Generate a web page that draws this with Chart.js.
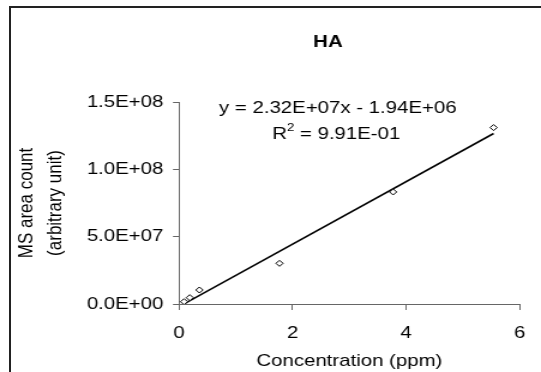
<!DOCTYPE html>
<html>
<head>
<meta charset="utf-8">
<script src="https://cdn.jsdelivr.net/npm/chart.js@4"></script>
<style>
    html, body { margin: 0; padding: 0; background: #fff; overflow: hidden; }
    #wrap { position: relative; width: 541px; height: 372px; }
    #frame {
        position: absolute; left: 9px; top: 6px; width: 700px; height: 500px;
        border-left: 2px solid #222; border-top: 2px solid #222;
    }
    #grafico { position: absolute; left: 0; top: 0; }
</style>
</head>
<body>
<div id="wrap">
    <div id="frame"></div>
    <!-- the original picture is stretched sideways, so the canvas is too -->
    <canvas id="grafico" width="451" height="372" style="width:541px;height:372px"></canvas>
</div>
<script>
// data
const concentration = [0.09, 0.19, 0.36, 1.77, 3.77, 5.54];
const areaCount = [1.7e6, 4.7e6, 1.04e7, 3.02e7, 8.32e7, 1.31e8];
const xTicks = [0, 2, 4, 6];
const yTicks = [0, 5e7, 1e8, 1.5e8];
const slope = 2.32e7;
const intercept = -1.94e6;
const chartTitle = 'HA';
const eqLine = 'y = 2.32E+07x - 1.94E+06';
const r2Value = ' = 9.91E-01';

const FONT = '"Liberation Sans", Arial, sans-serif';
Chart.defaults.font.family = FONT;
Chart.defaults.font.size = 17;
Chart.defaults.color = '#000';

function sci(v) {
    if (v === 0) return '0.0E+00';
    let [m, e] = v.toExponential(1).toUpperCase().split('E');
    const sign = e[0] === '-' ? '-' : '+';
    e = e.replace(/[+-]/, '').padStart(2, '0');
    return m + 'E' + sign + e;
}

// Excel style trendline over the data range
const xMin = Math.min(...concentration);
const xMax = Math.max(...concentration);
const trend = [xMin, xMax].map(x => ({ x: x, y: slope * x + intercept }));

const textoPlugin = {
    id: 'textos',
    afterDraw(chart) {
        const ctx = chart.ctx;
        ctx.save();
        ctx.fillStyle = '#000';
        ctx.textBaseline = 'middle';

        ctx.font = 'bold 17px ' + FONT;
        ctx.textAlign = 'center';
        ctx.fillText(chartTitle, 273.4, 42);

        ctx.font = '17px ' + FONT;
        ctx.fillText(eqLine, 281.6, 108.5);

        // R² line with superscript
        ctx.textAlign = 'left';
        const wR = ctx.measureText('R').width;
        const wRest = ctx.measureText(r2Value).width;
        ctx.font = '11px ' + FONT;
        const wSup = ctx.measureText('2').width;
        let x = 280.3 - (wR + wSup + wRest) / 2;
        const y = 134.5;
        ctx.font = '17px ' + FONT;
        ctx.fillText('R', x, y);
        ctx.font = '11px ' + FONT;
        ctx.fillText('2', x + wR, y - 7);
        ctx.font = '17px ' + FONT;
        ctx.fillText(r2Value, x + wR + wSup, y);
        ctx.restore();
    }
};

const ctx = document.getElementById('grafico').getContext('2d');
new Chart(ctx, {
    type: 'scatter',
    data: {
        datasets: [{
            label: 'HA',
            data: concentration.map((c, i) => ({ x: c, y: areaCount[i] })),
            pointStyle: 'rectRot',
            pointRadius: 3,
            pointBorderWidth: 1,
            pointBackgroundColor: '#fff',
            pointBorderColor: '#000',
            showLine: false,
            order: 1
        }, {
            label: 'Linear (HA)',
            data: trend,
            showLine: true,
            borderColor: '#000',
            borderWidth: 1.6,
            pointRadius: 0,
            order: 2
        }]
    },
    options: {
        responsive: false,
        animation: false,
        layout: { padding: { left: 0, right: 6.7, top: 102, bottom: 0 } },
        plugins: {
            legend: { display: false },
            tooltip: { enabled: false },
            title: { display: false }
        },
        scales: {
            x: {
                type: 'linear',
                min: 0,
                max: 6,
                afterBuildTicks: s => { s.ticks = xTicks.map(v => ({ value: v })); },
                afterFit: s => { s.height = 68; },
                ticks: { padding: 13, maxRotation: 0, callback: v => String(v) },
                grid: { drawOnChartArea: false, drawTicks: true, tickLength: 6, tickColor: '#666' },
                border: { display: true, color: '#666', width: 1 },
                title: { display: true, text: 'Concentration (ppm)', padding: { top: 0, bottom: 0 } }
            },
            y: {
                type: 'linear',
                min: 0,
                max: 1.5e8,
                afterBuildTicks: s => { s.ticks = yTicks.map(v => ({ value: v })); },
                afterFit: s => { s.width = 149.2; },
                ticks: { padding: 8, callback: v => sci(v) },
                grid: { drawOnChartArea: false, drawTicks: true, tickLength: 5, tickColor: '#666' },
                border: { display: true, color: '#666', width: 1 },
                title: {
                    display: true,
                    text: ['MS area count', '(arbitrary unit)'],
                    font: { size: 17, lineHeight: 1.4 },
                    padding: { top: 10.5, bottom: 0 }
                }
            }
        }
    },
    plugins: [textoPlugin]
});
</script>
</body>
</html>
